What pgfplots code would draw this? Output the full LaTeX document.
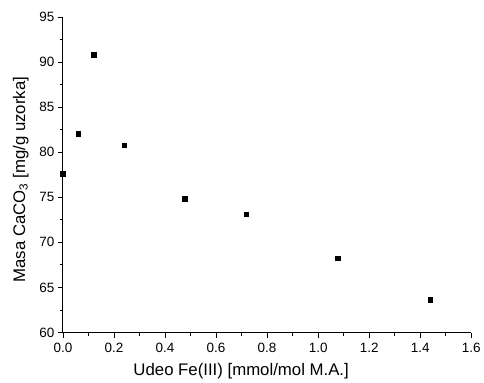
\documentclass[border=0pt]{standalone}
\usepackage{fontspec}
\setmainfont{Liberation Sans}
\usepackage{pgfplots}
\pgfplotsset{compat=1.18}
\begin{document}
\begin{tikzpicture}
\begin{axis}[
  scale only axis,
  width=409pt, height=316pt,
  xmin=0, xmax=1.6, ymin=60, ymax=95,
  axis lines=left,
  axis line style={-, line width=0.9pt},
  xtick={0,0.2,...,1.6},
  ytick={60,65,...,95},
  minor x tick num=1,
  minor y tick num=1,
  tick align=outside,
  major tick length=5pt,
  minor tick length=3pt,
  tick style={line width=0.8pt, black},
  xticklabel style={yshift=-2pt, /pgf/number format/.cd, fixed, fixed zerofill, precision=1},
  /pgf/number format/assume math mode=true,
  tick label style={font=\fontsize{13.5}{15}\selectfont},
  label style={font=\fontsize{16.8}{19}\selectfont},
  xlabel={Udeo Fe(III) [mmol/mol M.A.]},
  ylabel={Masa CaCO\textsubscript{3} [mg/g uzorka]},
  xlabel style={yshift=-4pt, xshift=-26pt},
  ylabel style={yshift=4pt, xshift=-5pt},
  clip=false,
]
\addplot[only marks, mark=square*, mark size=2.7pt, black] coordinates {
  (0.00,77.6) (0.121,90.8)
};
\addplot[only marks, mark=square*, mark size=2.2pt, black] coordinates {
  (0.06,82.05) (0.24,80.8) (0.477,74.85) (0.719,73.1) (1.077,68.25) (1.438,63.65)
};
\end{axis}
\path[use as bounding box] ([xshift=-63pt,yshift=-50pt]current axis.south west) rectangle ([xshift=12pt,yshift=17pt]current axis.north east);
\end{tikzpicture}
\end{document}
